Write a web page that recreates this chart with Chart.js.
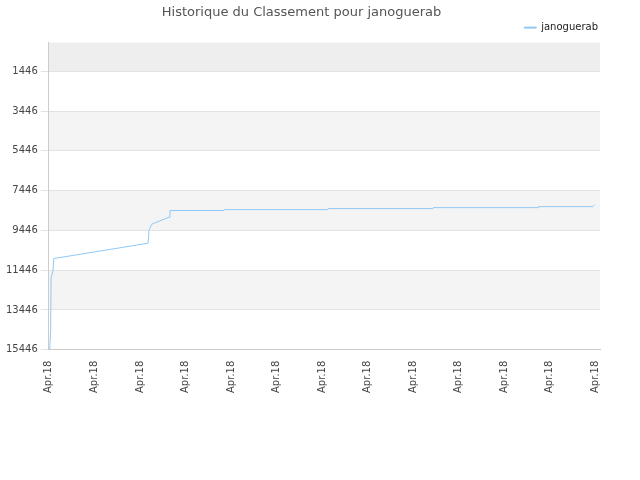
<!DOCTYPE html>
<html>
<head>
<meta charset="utf-8">
<script src="https://cdn.jsdelivr.net/npm/chart.js@4"></script>
<style>
  body { margin: 0; background: #fff; }
  #wrap { width: 640px; height: 480px; }
</style>
</head>
<body>
<div id="wrap"><canvas id="chart"></canvas></div>
<script>
const seriesName = 'janoguerab';
const xLabel = 'Apr.18';
const xTicks = [0, 1, 2, 3, 4, 5, 6, 7, 8, 9, 10, 11, 12];
const rankX = [0.02, 0.04, 0.05, 0.09, 0.11, 2.18, 2.2, 2.27, 2.64, 2.66, 3.84, 3.85, 6.12, 6.13, 8.43, 8.44, 10.74, 10.75, 11.94, 11.98];
const rankY = [15446, 14480, 11826, 11490, 10860, 10090, 9410, 9120, 8780, 8446, 8446, 8400, 8400, 8350, 8350, 8300, 8300, 8250, 8250, 8160];
const yTicks = [1446, 3446, 5446, 7446, 9446, 11446, 13446, 15446];

// alternating grey bands behind the plot
const bands = {
  id: 'bands',
  beforeDraw(chart) {
    const { ctx, chartArea: a, scales: { y } } = chart;
    const edges = [0, ...yTicks];
    ctx.save();
    for (let i = 0; i < edges.length - 1; i++) {
      const top = y.getPixelForValue(edges[i]);
      const bot = y.getPixelForValue(edges[i + 1]);
      ctx.fillStyle = i === 0 ? '#eeeeee' : (i % 2 === 0 ? '#f4f4f4' : '#ffffff');
      ctx.fillRect(a.left, top, a.right - a.left, bot - top);
    }
    ctx.restore();
  }
};

new Chart(document.getElementById('chart'), {
  type: 'line',
  data: {
    datasets: [{
      label: seriesName,
      data: rankX.map((x, i) => ({ x: x, y: rankY[i] })),
      borderColor: '#90c8f6',
      backgroundColor: '#90c8f6',
      borderWidth: 1,
      pointRadius: 0,
      tension: 0
    }]
  },
  options: {
    responsive: true,
    maintainAspectRatio: false,
    animation: false,
    layout: { padding: { left: 3, right: 40, top: 0, bottom: 84 } },
    plugins: {
      title: {
        display: true,
        text: 'Historique du Classement pour janoguerab',
        color: '#555',
        font: { family: 'DejaVu Sans', size: 13, weight: 'normal' },
        padding: { top: 5, bottom: 0 }
      },
      legend: {
        position: 'top',
        align: 'end',
        labels: {
          boxWidth: 12, boxHeight: 1,
          padding: 2,
          color: '#222',
          font: { family: 'DejaVu Sans', size: 10 }
        }
      }
    },
    scales: {
      x: {
        type: 'linear',
        min: 0, max: 12.1,
        afterBuildTicks: s => { s.ticks = xTicks.map(v => ({ value: v })); },
        ticks: {
          callback: () => xLabel,
          maxRotation: 90, minRotation: 90,
          color: '#444',
          font: { family: 'DejaVu Sans', size: 10 }
        },
        grid: { display: false },
        border: { color: '#ccc' }
      },
      y: {
        reverse: true,
        min: 0, max: 15446,
        afterBuildTicks: s => { s.ticks = yTicks.map(v => ({ value: v })); },
        ticks: {
          callback: v => String(v),
          color: '#444',
          font: { family: 'DejaVu Sans', size: 10 }
        },
        grid: { color: '#e2e2e2' },
        border: { color: '#ccc' }
      }
    }
  },
  plugins: [bands]
});
</script>
</body>
</html>
